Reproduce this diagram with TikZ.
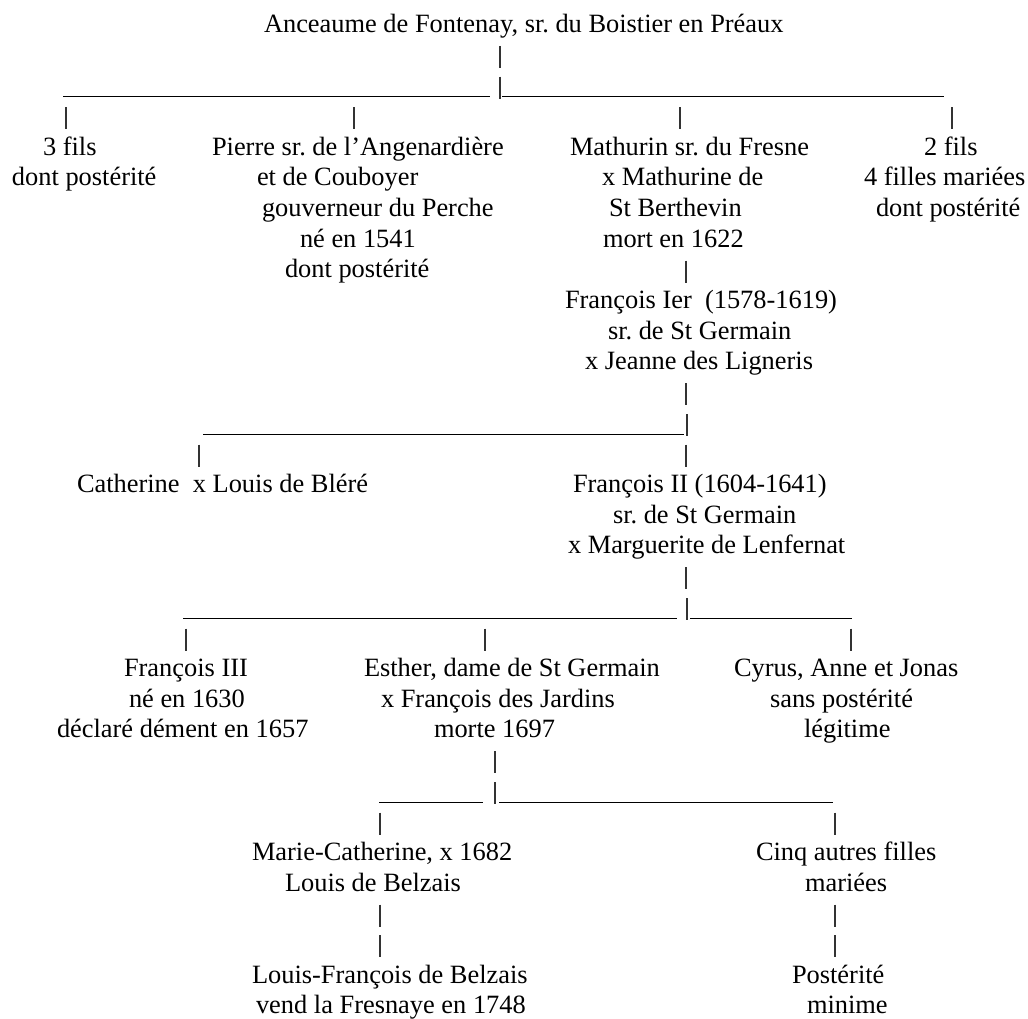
\documentclass[tikz,border=0pt]{standalone}
\usepackage{fontspec}
\setmainfont{Liberation Serif}
\frenchspacing
\newcommand\rowbl[1]{(32.5+30.67*(#1))}
\begin{document}
\begin{tikzpicture}[x=0.75pt,y=-0.75pt,
  txt/.style={anchor=base west,inner sep=0pt,outer sep=0pt,font=\fontsize{19.8pt}{23pt}\selectfont},
  bar/.style={line width=0.8pt,black!80},
  uline/.style={line width=0.95pt,black}]
\useasboundingbox (0,0) rectangle (1028,1019);
% helpers: a "|" bar and an underscore rule on a given text row
\newcommand\pipe[3]{%
  \coordinate (#1a) at (#2,{\rowbl{#3}-17.2});
  \coordinate (#1b) at (#2,{\rowbl{#3}+4.8});
  \draw[bar] (#1a) -- (#1b);}
\newcommand\uline[4]{%
  \coordinate (#1l) at (#2,{\rowbl{#4}+3});
  \coordinate (#1r) at (#3,{\rowbl{#4}+3});
  \draw[uline] (#1l) -- (#1r);}

% generation 0
\node[txt] (root) at (264,{\rowbl{0}}) {Anceaume de Fontenay, sr. du Boistier en Préaux};
\pipe{pA}{500}{1}
\uline{hA}{63}{490}{2}
\pipe{pB}{500}{2}
\uline{hB}{502}{944}{2}
\pipe{c1}{66}{3}
\pipe{c2}{354}{3}
\pipe{c3}{680}{3}
\pipe{c4}{952}{3}

% generation 1
\node[txt] (f3a) at (43,{\rowbl{4}}) {3 fils};
\node[txt] (f3b) at (12,{\rowbl{5}}) {dont postérité};

\node[txt] (pi1) at (212,{\rowbl{4}}) {Pierre sr. de l’Angenardière};
\node[txt] (pi2) at (257,{\rowbl{5}}) {et de Couboyer};
\node[txt] (pi3) at (262,{\rowbl{6}}) {gouverneur du Perche};
\node[txt] (pi4) at (300,{\rowbl{7}}) {né en 1541};
\node[txt] (pi5) at (285,{\rowbl{8}}) {dont postérité};

\node[txt] (ma1) at (570,{\rowbl{4}}) {Mathurin sr. du Fresne};
\node[txt] (ma2) at (602,{\rowbl{5}}) {x Mathurine de};
\node[txt] (ma3) at (609,{\rowbl{6}}) {St Berthevin};
\node[txt] (ma4) at (603,{\rowbl{7}}) {mort en 1622};
\pipe{pM}{686}{8}

\node[txt] (f2a) at (924,{\rowbl{4}}) {2 fils};
\node[txt] (f2b) at (864,{\rowbl{5}}) {4 filles mariées};
\node[txt] (f2c) at (876,{\rowbl{6}}) {dont postérité};

% François Ier
\node[txt] (fi1) at (565,{\rowbl{9}}) {François Ier\ \ (1578-1619)};
\node[txt] (fi2) at (608,{\rowbl{10}}) {sr. de St Germain};
\node[txt] (fi3) at (585,{\rowbl{11}}) {x Jeanne des Ligneris};
\pipe{pF}{686}{12}
\uline{hC}{203}{684}{13}
\pipe{pG}{687}{13}
\pipe{c5}{199}{14}
\pipe{c6}{686}{14}

% generation 3
\node[txt] (ca) at (77,{\rowbl{15}}) {Catherine\ \ x Louis de Bléré};
\node[txt] (fii1) at (573,{\rowbl{15}}) {François II (1604-1641)};
\node[txt] (fii2) at (613,{\rowbl{16}}) {sr. de St Germain};
\node[txt] (fii3) at (568,{\rowbl{17}}) {x Marguerite de Lenfernat};
\pipe{pH}{686}{18}
\uline{hD}{183}{677}{19}
\pipe{pI}{687}{19}
\uline{hE}{690}{852}{19}
\pipe{c7}{186}{20}
\pipe{c8}{485}{20}
\pipe{c9}{851}{20}

% generation 4
\node[txt] (fiii1) at (124,{\rowbl{21}}) {François III};
\node[txt] (fiii2) at (129,{\rowbl{22}}) {né en 1630};
\node[txt] (fiii3) at (57,{\rowbl{23}}) {déclaré dément en 1657};

\node[txt] (es1) at (364,{\rowbl{21}}) {Esther, dame de St Germain};
\node[txt] (es2) at (381,{\rowbl{22}}) {x François des Jardins};
\node[txt] (es3) at (434,{\rowbl{23}}) {morte 1697};
\pipe{pE}{495}{24}

\node[txt] (cy1) at (734,{\rowbl{21}}) {Cyrus, Anne et Jonas};
\node[txt] (cy2) at (770,{\rowbl{22}}) {sans postérité};
\node[txt] (cy3) at (804,{\rowbl{23}}) {légitime};

\uline{hF}{379}{483}{25}
\pipe{pJ}{495}{25}
\uline{hG}{499}{833}{25}
\pipe{c10}{380}{26}
\pipe{c11}{835}{26}

% generation 5
\node[txt] (mc1) at (252,{\rowbl{27}}) {Marie-Catherine, x 1682};
\node[txt] (mc2) at (285,{\rowbl{28}}) {Louis de Belzais};
\pipe{pK}{380}{29}
\pipe{pL}{380}{30}
\node[txt] (lf1) at (252,{\rowbl{31}}) {Louis-François de Belzais};
\node[txt] (lf2) at (256,{\rowbl{32}}) {vend la Fresnaye en 1748};

\node[txt] (ci1) at (756,{\rowbl{27}}) {Cinq autres filles};
\node[txt] (ci2) at (805,{\rowbl{28}}) {mariées};
\pipe{pP}{835}{29}
\pipe{pQ}{835}{30}
\node[txt] (po1) at (792,{\rowbl{31}}) {Postérité};
\node[txt] (po2) at (807,{\rowbl{32}}) {minime};
\end{tikzpicture}
\end{document}
